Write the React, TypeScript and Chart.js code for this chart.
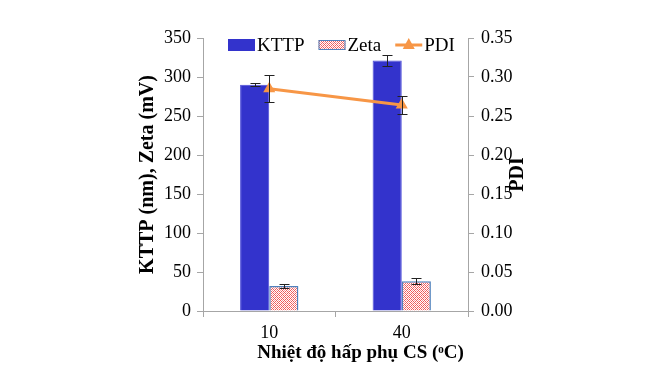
import React, { useEffect, useRef } from "react";
import { Chart, registerables } from "chart.js";
Chart.register(...registerables);

const categories = ["10", "40"];
const kttp = [290, 321];
const kttpErr = [2, 7];
const zeta = [32, 38];
const zetaErr = [2, 4];
const pdi = [0.285, 0.264];
const pdiErr = [0.017, 0.012];
const seriesNames = ["KTTP", "Zeta", "PDI"];
const xTitle = "Nhiệt độ hấp phụ CS (ᵒC)";
const yTitle = "KTTP (nm), Zeta (mV)";
const y1Title = "PDI";

const FONT = "'Liberation Serif', 'Times New Roman', serif";
const BAR_BLUE = "#3333CC";
const ZETA_BORDER = "#4F81BD";
const PDI_ORANGE = "#F79646";
const AXIS_GRAY = "#A6A6A6";

function makePattern(): CanvasPattern | string {
  const c = document.createElement("canvas");
  c.width = 4;
  c.height = 4;
  const g = c.getContext("2d");
  if (!g) return "#fff";
  g.fillStyle = "#ffffff";
  g.fillRect(0, 0, 4, 4);
  g.fillStyle = "#F05A5A";
  g.fillRect(0, 0, 1, 1);
  g.fillRect(1, 1, 1, 1);
  g.fillRect(2, 2, 1, 1);
  g.fillRect(3, 3, 1, 1);
  g.fillRect(3, 1, 1, 1);
  g.fillRect(1, 3, 1, 1);
  g.fillStyle = "#F7A0A0";
  g.fillRect(2, 0, 1, 1);
  g.fillRect(0, 2, 1, 1);
  const p = g.createPattern(c, "repeat");
  return p || "#fff";
}

const errorBarPlugin = {
  id: "errorBars",
  afterDatasetsDraw(chart: any) {
    const ctx = chart.ctx;
    ctx.save();
    ctx.strokeStyle = "#222";
    ctx.lineWidth = 1;
    chart.data.datasets.forEach((ds: any, di: number) => {
      const meta = chart.getDatasetMeta(di);
      const scale = chart.scales[meta.yAxisID];
      (ds.errors || []).forEach((e: number, i: number) => {
        const el = meta.data[i];
        if (!el) return;
        const v = ds.data[i];
        const x = Math.round(el.x) + 0.5;
        const yTop = Math.round(scale.getPixelForValue(v + e)) + 0.5;
        const yBot = Math.round(scale.getPixelForValue(v - e)) + 0.5;
        ctx.beginPath();
        ctx.moveTo(x, yTop); ctx.lineTo(x, yBot);
        ctx.moveTo(x - 5, yTop); ctx.lineTo(x + 5, yTop);
        ctx.moveTo(x - 5, yBot); ctx.lineTo(x + 5, yBot);
        ctx.stroke();
      });
    });
    ctx.restore();
  },
};

const legendPlugin = {
  id: "customLegend",
  afterDraw(chart: any) {
    const ctx = chart.ctx;
    const area = chart.chartArea;
    ctx.save();
    ctx.font = `19px ${FONT}`;
    ctx.textBaseline = "middle";
    const sw = 27, gap = 2, itemGap = 14;
    let x = area.left + 25;
    const cy = area.top + 7;
    seriesNames.forEach((n, i) => {
      if (i === 0) {
        ctx.fillStyle = BAR_BLUE;
        ctx.fillRect(x, cy - 6, sw, 12);
      } else if (i === 1) {
        ctx.fillStyle = chart.data.datasets[1].backgroundColor;
        ctx.fillRect(x, cy - 5, sw, 10);
        ctx.strokeStyle = ZETA_BORDER;
        ctx.lineWidth = 1;
        ctx.strokeRect(x + 0.5, cy - 4.5, sw - 1, 9);
      } else {
        ctx.strokeStyle = PDI_ORANGE;
        ctx.lineWidth = 3;
        ctx.beginPath();
        ctx.moveTo(x, cy); ctx.lineTo(x + sw, cy);
        ctx.stroke();
        ctx.fillStyle = PDI_ORANGE;
        ctx.beginPath();
        ctx.moveTo(x + sw / 2, cy - 7);
        ctx.lineTo(x + sw / 2 + 6, cy + 4);
        ctx.lineTo(x + sw / 2 - 6, cy + 4);
        ctx.closePath();
        ctx.fill();
      }
      ctx.fillStyle = "#000";
      ctx.textAlign = "left";
      ctx.fillText(n, x + sw + gap, cy + 1);
      x += sw + gap + ctx.measureText(n).width + itemGap;
    });
    // x-axis title (offset to the right as in the reference)
    ctx.font = `bold 19px ${FONT}`;
    ctx.textAlign = "center";
    ctx.textBaseline = "middle";
    ctx.fillText(xTitle, (area.left + area.right) / 2 + 25, area.bottom + 42);
    // right axis title, rotated like the left one
    ctx.font = `bold 20px ${FONT}`;
    ctx.translate(area.right + 50, (area.top + area.bottom) / 2);
    ctx.rotate(-Math.PI / 2);
    ctx.fillText(y1Title, 0, 0);
    ctx.restore();
  },
};

export default function App() {
  const ref = useRef<HTMLCanvasElement>(null);
  useEffect(() => {
    document.body.style.margin = "0";
    if (!ref.current) return;
    const pattern = makePattern();
    const tickFont = { family: FONT, size: 18 };
    const chart = new Chart(ref.current, {
      type: "bar",
      data: {
        labels: categories,
        datasets: [
          {
            type: "bar",
            label: seriesNames[0],
            data: kttp,
            errors: kttpErr,
            backgroundColor: BAR_BLUE,
            borderColor: "#4A4AD8",
            borderWidth: 1,
            yAxisID: "y",
            order: 2,
          } as any,
          {
            type: "bar",
            label: seriesNames[1],
            data: zeta,
            errors: zetaErr,
            backgroundColor: pattern,
            borderColor: ZETA_BORDER,
            borderWidth: 1.5,
            yAxisID: "y",
            order: 2,
          } as any,
          {
            type: "line",
            label: seriesNames[2],
            data: pdi,
            errors: pdiErr,
            borderColor: PDI_ORANGE,
            backgroundColor: PDI_ORANGE,
            borderWidth: 3,
            pointStyle: "triangle",
            pointRadius: 7,
            pointBorderWidth: 0,
            yAxisID: "y1",
            order: 1,
          } as any,
        ],
      },
      options: {
        animation: false,
        responsive: false,
        maintainAspectRatio: false,
        layout: { padding: { left: 136, right: 135, top: 38, bottom: 0 } },
        datasets: { bar: { categoryPercentage: 0.44, barPercentage: 1.0 } },
        plugins: { legend: { display: false }, tooltip: { enabled: false } },
        scales: {
          x: {
            offset: true,
            grid: { display: true, offset: true, drawOnChartArea: false, color: AXIS_GRAY, tickLength: 6 },
            border: { display: true, color: AXIS_GRAY },
            ticks: { color: "#000", font: tickFont, padding: 5 },
            title: { display: false },
            afterFit: (s: any) => { s.height = 57; },
          },
          y: {
            position: "left",
            min: 0,
            max: 350,
            ticks: { stepSize: 50, color: "#000", font: tickFont, padding: 6 },
            grid: { display: true, drawOnChartArea: false, color: AXIS_GRAY, tickLength: 6 },
            border: { display: true, color: AXIS_GRAY },
            title: { display: true, text: yTitle, color: "#000", font: { family: FONT, size: 20, weight: "bold" }, padding: { top: 0, bottom: 4 } },
            afterFit: (s: any) => { s.width = 67; },
          },
          y1: {
            position: "right",
            min: 0,
            max: 0.35,
            ticks: {
              stepSize: 0.05,
              color: "#000",
              font: tickFont,
              padding: 7,
              callback: (v: any) => Number(v).toFixed(2),
            },
            grid: { display: true, drawOnChartArea: false, color: AXIS_GRAY, tickLength: 6 },
            border: { display: true, color: AXIS_GRAY },
            title: { display: false },
            afterFit: (s: any) => { s.width = 58; },
          },
        },
      } as any,
      plugins: [errorBarPlugin, legendPlugin],
    });
    return () => chart.destroy();
  }, []);
  return (
    <div style={{ width: 661, height: 368, background: "#fff" }}>
      <canvas ref={ref} width={661} height={368} style={{ display: "block" }} />
    </div>
  );
}
